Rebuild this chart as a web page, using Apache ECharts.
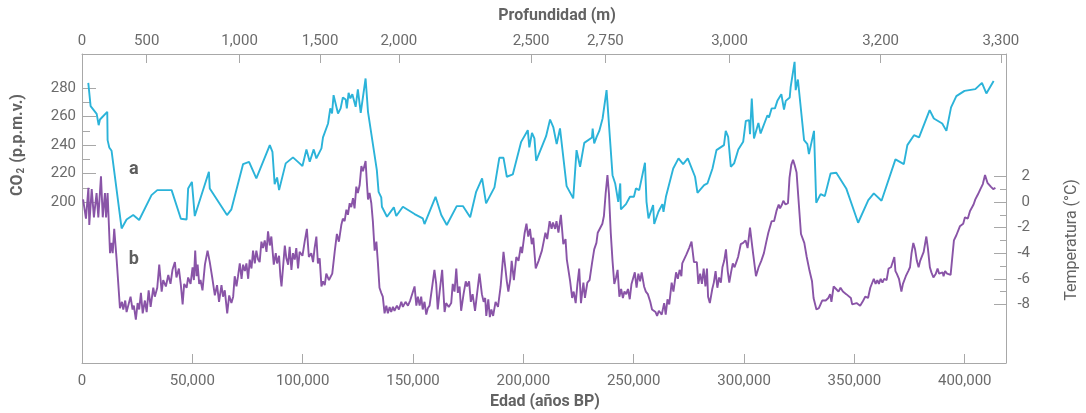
<!DOCTYPE html>
<html>
<head>
<meta charset="utf-8">
<title>Vostok CO2 y temperatura</title>
<script src="https://cdn.jsdelivr.net/npm/echarts@6.0.0/dist/echarts.min.js"></script>
<style>
  html, body { margin: 0; padding: 0; background: #fff; }
  #chart { width: 1086px; height: 413px; }
</style>
</head>
<body>
<div id="chart"></div>
<script>
// edad (años BP) y CO2 (p.p.m.v.) - curva a
const co2Age = [2850, 3900, 6650, 7550, 8150, 11450, 11600, 12350, 13400, 17950, 20200, 23200, 25900, 31500, 34100, 40600, 44800, 47400, 48100, 49800,
  51100, 57500, 57900, 65700, 67700, 73000, 75700, 79000, 85100, 86300, 87300, 88400, 89300, 92300, 95600, 98600, 99900, 101700, 103200, 105000,
  106200, 108500, 109200, 111500, 112500, 113300, 114000, 114800, 116000, 117200, 118200, 119500, 120000, 120800, 121600, 122500, 124000, 125000, 126300, 128500,
  129600, 133600, 134400, 135600, 135900, 138200, 141300, 142400, 145400, 150700, 154400, 155200, 160200, 162800, 165300, 169800, 172600, 175900, 178600, 181300,
  183100, 186900, 189100, 191000, 192500, 195200, 199000, 202000, 202700, 203900, 205000, 205800, 210300, 212100, 213600, 215100, 216600, 219600, 222600, 224100,
  225700, 227600, 231100, 231400, 232100, 233200, 234400, 235900, 237700, 240400, 241600, 243000, 243900, 244200, 246500, 248300, 250100, 251000, 252500, 255100,
  255800, 256700, 258800, 259300, 261200, 263000, 263500, 264600, 267900, 270300, 272400, 274500, 277800, 278900, 281900, 283400, 285700, 287500, 290900, 291700,
  292800, 294000, 295500, 297400, 299600, 300800, 302300, 302700, 303500, 304500, 306500, 307500, 310600, 311300, 312500, 314000, 315100, 316900, 318100, 318900,
  320700, 321100, 322900, 323400, 324400, 327200, 328700, 329400, 331700, 332700, 334700, 336600, 339200, 341800, 346300, 351700, 356300, 358800, 362300, 368600,
  372400, 374000, 377000, 379300, 384100, 386000, 389800, 391700, 393800, 396200, 399900, 404800, 407800, 409800, 413100];
const co2Ppm = [283.7, 267.4, 262, 254, 258, 263.4, 243.5, 238.4, 236, 181.5, 187.8, 190.9, 187.4, 204.9, 208.4, 208.4, 188.3, 187.8, 209.6, 214.2,
  190.2, 221.3, 209.6, 190.9, 194.9, 226.7, 228.3, 216.6, 240, 235.3, 212.6, 217.3, 208.4, 227.2, 231.4, 227.2, 225.3, 237, 228.3, 237,
  230.7, 237.7, 245.4, 255.2, 265.8, 262.2, 275.1, 273.9, 262.2, 265.8, 273.5, 272, 265.8, 276.7, 272.8, 275.8, 266.9, 279.1, 262.7, 286.8,
  263.4, 222.5, 207.2, 203.3, 196.7, 189.7, 196.3, 190.2, 196.7, 191.6, 188.6, 184.6, 203.7, 190.9, 183.9, 197.2, 197.2, 189.3, 207.2, 216.6,
  199.1, 210.3, 231.1, 231.1, 217.8, 219.4, 242.3, 250.5, 238.4, 248.6, 244.7, 229, 246.3, 258, 252.4, 240.7, 251.7, 211.2, 202.6, 236.5,
  224.8, 241.6, 245.4, 251.7, 241.2, 245.8, 250, 258.7, 278.6, 218.9, 213.1, 200.2, 213.1, 194.9, 198.6, 203.7, 203.7, 209.6, 208.4, 227.6,
  200.2, 188.6, 197.9, 184.6, 193.2, 198.6, 193.2, 203.7, 223.6, 230.7, 226.7, 230.7, 217.8, 206.5, 211.9, 213.1, 223.6, 236.5, 240, 250,
  245.8, 224.8, 227.2, 237, 242.3, 257, 257.5, 247.7, 272.8, 244.7, 255.6, 248.2, 261, 259.4, 265.8, 265.8, 271.1, 275.8, 265, 271.1,
  273.5, 280.5, 298.5, 278.6, 286.1, 243.5, 240.7, 233.7, 250, 199.5, 205.6, 204.2, 220.1, 220.6, 209.6, 185.5, 201.4, 206.1, 200.9, 230,
  226.7, 240, 247, 245.4, 264.6, 258.7, 255.2, 250, 266.5, 274.4, 278.1, 279.3, 283.7, 276.3, 285.1];

// edad (años BP) y temperatura (°C) - curva b
const tempAge = [500, 1800, 2900, 3300, 4400, 5400, 6600, 7400, 8600, 9400, 10400, 10900, 11600, 12700, 13400, 13900, 14600, 15700, 17200, 18100,
  18700, 19600, 20200, 21100, 22000, 22900, 23500, 24400, 25200, 25900, 26700, 27500, 28500, 29300, 30200, 31100, 32300, 33000, 34100, 35000,
  36100, 36800, 38000, 39100, 40100, 41000, 42100, 42800, 43900, 44800, 45600, 46300, 47400, 48100, 49200, 50100, 50700, 51300, 51900, 52400,
  53100, 53700, 54600, 55700, 56900, 57900, 59100, 60200, 61200, 62100, 63200, 63900, 64700, 65800, 66700, 67700, 68500, 69200, 70000, 70700,
  71500, 72300, 73000, 73800, 74500, 75300, 76000, 76800, 77500, 78300, 79000, 79800, 80500, 81300, 82000, 82800, 83600, 84300, 85100, 85800,
  86900, 87800, 88400, 89300, 89900, 90400, 91100, 91900, 92600, 93400, 94100, 94900, 95600, 96400, 97100, 97900, 98600, 99900, 100900, 101900,
  102800, 103900, 104700, 105400, 106200, 106900, 107700, 108500, 109200, 110000, 110700, 111900, 113400, 114500, 115500, 116400, 117500, 118200, 119000, 119800,
  120500, 121300, 122000, 122800, 123500, 124300, 125000, 125800, 126600, 127300, 128100, 128500, 129100, 129600, 130300, 131100, 131800, 132600, 133400, 134100,
  134800, 135600, 136300, 137100, 137900, 138600, 139400, 140100, 140900, 141600, 142700, 143600, 144700, 145400, 146600, 147700, 148700, 149600, 150700, 151500,
  152200, 153000, 153700, 154400, 155200, 156000, 156700, 157500, 158700, 159700, 160500, 161200, 162000, 163200, 164300, 165000, 166200, 167300, 168000, 168800,
  169600, 170300, 171100, 171800, 172900, 173900, 174500, 175400, 176200, 177000, 178100, 180100, 181200, 182000, 182700, 183200, 184100, 184800, 185500, 186300,
  187400, 188500, 189700, 191000, 191800, 192500, 193200, 194100, 194700, 195700, 196800, 197800, 198800, 199400, 200600, 201400, 202200, 203000, 203800, 204500,
  205600, 206900, 208400, 210000, 210800, 211900, 212800, 213400, 214400, 215000, 215900, 217000, 218100, 219100, 219700, 220600, 221200, 222100, 222800, 223700,
  224500, 225300, 226100, 227200, 227900, 229000, 230000, 231100, 232100, 233100, 233700, 234600, 235800, 236500, 237300, 238100, 238800, 239600, 240400, 241200,
  242000, 242700, 243500, 244300, 245100, 245800, 246600, 247400, 248200, 249000, 249700, 250500, 251300, 252100, 252900, 253600, 254700, 255500, 256400, 257500,
  258300, 259100, 259900, 260600, 261400, 262700, 263800, 264500, 265300, 266100, 267200, 268000, 269200, 270000, 270800, 271600, 272000, 273900, 275100, 276200,
  277300, 278600, 279300, 280100, 280900, 281700, 282500, 283200, 283700, 284500, 285600, 286300, 287100, 287900, 288700, 289500, 290200, 291000, 291800, 292600,
  293300, 294100, 294900, 295700, 296500, 297300, 298500, 299600, 300700, 301600, 302700, 303800, 305400, 306600, 307800, 309000, 310100, 311000, 311600, 312500,
  313600, 314700, 315700, 316300, 317200, 317800, 318800, 319900, 320600, 321400, 322200, 322900, 323800, 324500, 325800, 327300, 328400, 329700, 330800, 331500,
  332800, 333900, 335400, 337000, 338200, 339000, 339600, 340600, 341700, 342800, 343700, 344800, 346300, 348400, 349000, 351000, 352600, 353700, 354900, 356200,
  357200, 358000, 358800, 359600, 360400, 361100, 361900, 362700, 363500, 364600, 365500, 366600, 367400, 368100, 368600, 369200, 370200, 371300, 372000, 373300,
  374400, 375200, 375900, 376700, 377500, 378300, 379100, 379800, 381400, 382600, 383300, 384200, 384900, 385800, 386900, 387700, 388400, 389200, 390000, 390400,
  391100, 392000, 392700, 393600, 395100, 396200, 397800, 399300, 400100, 401400, 402400, 404000, 404800, 406000, 407100, 408200, 409200, 410300, 411800, 412900,
  413900];
const tempC = [0.2, -1.3, 1.1, -1.8, 1.0, -1.2, 0.7, -1.2, 2.0, -1.2, 0.7, -1.2, 0.7, -4.0, -3.2, -4.0, -2.1, -4.5, -8.3, -7.8,
  -8.4, -7.7, -8.6, -8.0, -7.4, -8.4, -8.1, -9.2, -7.9, -8.4, -7.1, -8.7, -7.7, -8.6, -6.9, -8.2, -6.7, -7.4, -6.7, -4.9,
  -7.0, -6.1, -6.6, -5.7, -6.4, -5.3, -4.7, -5.9, -5.2, -6.5, -8.0, -6.4, -6.7, -5.9, -6.4, -5.1, -6.1, -3.8, -5.8, -4.9,
  -6.4, -6.1, -6.9, -4.9, -3.8, -4.7, -6.0, -7.3, -6.5, -7.8, -6.5, -7.4, -6.9, -8.7, -7.3, -7.9, -7.4, -5.8, -6.6, -5.8,
  -4.8, -6.0, -4.9, -5.4, -4.8, -6.0, -4.5, -5.2, -3.8, -4.8, -3.8, -4.5, -4.7, -3.1, -3.6, -3.0, -3.9, -2.3, -3.4, -2.7,
  -4.9, -4.0, -4.8, -4.2, -5.8, -6.6, -5.1, -3.4, -4.4, -4.9, -3.5, -5.3, -4.0, -4.5, -3.6, -5.2, -3.9, -4.2, -3.1, -2.1,
  -4.3, -4.0, -4.7, -3.6, -2.7, -4.8, -4.4, -6.6, -6.2, -6.5, -5.6, -6.1, -5.6, -3.9, -2.5, -3.1, -1.8, -1.3, -1.5, -0.6,
  -1.0, -0.1, -0.4, 0.3, -0.5, 1.2, 0.7, 1.3, 2.8, 2.4, 2.9, 3.2, 1.5, 0.2, 0.7, -0.1, -1.5, -3.8, -3.1, -4.8,
  -6.7, -7.1, -7.4, -8.7, -8.1, -8.7, -8.2, -8.6, -8.2, -8.5, -8.1, -8.4, -7.8, -8.2, -7.8, -8.1, -7.7, -7.6, -6.6, -8.1,
  -7.4, -8.1, -7.4, -8.4, -7.8, -8.8, -8.3, -8.1, -6.6, -5.3, -6.4, -8.4, -7.1, -5.3, -8.6, -7.9, -8.2, -7.9, -6.4, -7.0,
  -5.2, -7.1, -6.6, -8.5, -7.2, -6.2, -6.6, -6.2, -7.8, -7.2, -8.5, -5.6, -7.2, -7.8, -7.5, -8.9, -7.6, -9.0, -8.4, -8.9,
  -7.8, -8.2, -6.6, -3.9, -5.1, -6.2, -7.0, -6.0, -4.6, -6.1, -4.3, -4.6, -3.5, -4.0, -2.4, -1.7, -2.7, -2.1, -3.3, -2.8,
  -5.2, -4.6, -3.8, -2.4, -2.9, -1.5, -2.1, -1.6, -2.1, -1.5, -2.4, -1.0, -3.3, -2.9, -4.5, -4.5, -6.2, -7.5, -7.0, -7.9,
  -6.4, -5.2, -7.9, -6.3, -7.5, -6.3, -6.1, -4.8, -3.7, -3.2, -2.4, -2.5, -1.7, -1.1, 0.7, 2.1, 0.6, -2.4, -4.6, -6.4,
  -5.9, -5.3, -7.4, -6.8, -7.5, -7.0, -7.2, -6.8, -7.6, -6.4, -6.4, -5.5, -6.7, -5.6, -6.2, -5.5, -6.6, -7.0, -7.2, -7.8,
  -8.4, -8.3, -8.6, -8.9, -8.5, -8.8, -7.9, -8.8, -7.6, -8.0, -6.3, -7.0, -5.5, -6.0, -5.3, -5.8, -4.8, -4.1, -3.6, -3.1,
  -4.7, -4.7, -6.4, -5.6, -6.4, -5.2, -6.6, -5.2, -7.4, -7.9, -6.8, -6.3, -5.4, -6.7, -5.9, -6.3, -5.1, -4.6, -3.7, -5.4,
  -6.3, -5.5, -4.8, -5.1, -4.7, -4.3, -3.3, -3.2, -3.0, -3.6, -2.0, -3.6, -5.8, -5.1, -4.6, -4.0, -3.1, -2.4, -2.5, -1.5,
  -1.5, -0.7, -0.2, -0.5, -0.2, 0.1, -0.2, -0.1, 1.9, 2.9, 3.3, 2.9, 2.3, 0.6, -2.5, -3.2, -4.3, -5.4, -6.2, -7.5,
  -8.4, -8.3, -7.7, -7.7, -7.5, -7.2, -7.8, -6.6, -6.8, -7.0, -6.7, -7.0, -7.2, -7.5, -8.0, -7.9, -8.1, -7.8, -7.4, -7.5,
  -6.7, -6.8, -6.0, -6.4, -6.1, -6.4, -6.0, -6.3, -6.0, -6.1, -5.2, -5.1, -5.1, -4.3, -5.4, -5.6, -6.0, -7.0, -6.4, -5.8,
  -5.4, -5.1, -4.0, -3.2, -3.7, -4.6, -5.1, -4.6, -3.9, -2.7, -3.6, -5.1, -5.5, -5.9, -5.6, -5.2, -5.6, -5.6, -5.5, -5.8,
  -5.4, -5.6, -5.5, -5.7, -3.0, -2.6, -1.9, -1.7, -1.2, -1.3, -0.7, -0.2, 0.2, 0.6, 1.0, 1.4, 2.1, 1.5, 1.2, 1.0,
  1.1];

// ejes
const ageTicks = [0, 50000, 100000, 150000, 200000, 250000, 300000, 350000, 400000];
const depthLabels = ['0', '500', '1,000', '1,500', '2,000', '2,500', '2,750', '3,000', '3,200', '3,300'];
const depthAges = [0, 29300, 71400, 107900, 143600, 203500, 237200, 293400, 361900, 416400];
const co2Ticks = [200, 220, 240, 260, 280];
const co2MinorTicks = [210, 230, 250, 270];
const tempTicks = [-8, -6, -4, -2, 0, 2];
const tempMinorTicks = [-7, -5, -3, -1, 1];

const AXIS_COLOR = '#a8a8a8';
const TEXT_COLOR = '#6b6b6b';
const TITLE_COLOR = '#636363';
const FONT = 'Roboto';

const chart = echarts.init(document.getElementById('chart'), null, { renderer: 'canvas' });

const fmtNum = (v) => Number(v).toLocaleString('en-US');

const axisLineStyle = { show: true, onZero: false, lineStyle: { color: AXIS_COLOR, width: 1 } };

const yBase = (min, max, position) => ({
  type: 'value',
  position: position,
  offset: 0,
  min: min,
  max: max,
  splitLine: { show: false },
  axisLine: axisLineStyle
});

const option = {
  animation: false,
  backgroundColor: '#fff',
  grid: { left: 82, right: 80, top: 54, bottom: 50, containLabel: false },
  xAxis: [
    {
      type: 'value',
      position: 'bottom',
      min: 0,
      max: 418700,
      splitLine: { show: false },
      axisLine: axisLineStyle,
      axisTick: { show: true, inside: true, length: 9, customValues: ageTicks, lineStyle: { color: AXIS_COLOR } },
      axisLabel: {
        customValues: ageTicks,
        margin: 11,
        color: TEXT_COLOR,
        fontFamily: FONT,
        fontSize: 15,
        formatter: fmtNum
      }
    },
    {
      type: 'value',
      position: 'top',
      min: 0,
      max: 418700,
      splitLine: { show: false },
      axisLine: axisLineStyle,
      axisTick: { show: true, inside: true, length: 9, customValues: depthAges, lineStyle: { color: AXIS_COLOR } },
      axisLabel: {
        customValues: depthAges,
        margin: 5,
        color: TEXT_COLOR,
        fontFamily: FONT,
        fontSize: 15,
        formatter: (v) => depthLabels[depthAges.indexOf(v)]
      }
    }
  ],
  yAxis: [
    Object.assign(yBase(87, 304, 'left'), {
      axisTick: { show: true, inside: true, length: 14, customValues: co2Ticks, lineStyle: { color: AXIS_COLOR } },
      axisLabel: { customValues: co2Ticks, margin: 6, color: TEXT_COLOR, fontFamily: FONT, fontSize: 15 }
    }),
    Object.assign(yBase(-12.58, 11.56, 'right'), {
      axisTick: { show: true, inside: true, length: 12, customValues: tempTicks, lineStyle: { color: AXIS_COLOR } },
      axisLabel: { customValues: tempTicks, margin: 24, align: 'right', color: TEXT_COLOR, fontFamily: FONT, fontSize: 15 }
    }),
    // ticks menores (sin etiqueta)
    Object.assign(yBase(87, 304, 'left'), {
      axisLine: { show: false, onZero: false },
      axisTick: { show: true, inside: true, length: 8, customValues: co2MinorTicks, lineStyle: { color: AXIS_COLOR } },
      axisLabel: { show: false }
    }),
    Object.assign(yBase(-12.58, 11.56, 'right'), {
      axisLine: { show: false, onZero: false },
      axisTick: { show: true, inside: true, length: 6, customValues: tempMinorTicks, lineStyle: { color: AXIS_COLOR } },
      axisLabel: { show: false }
    })
  ],
  series: [
    {
      name: 'CO2',
      type: 'line',
      xAxisIndex: 0,
      yAxisIndex: 0,
      showSymbol: false,
      symbol: 'none',
      lineStyle: { color: '#2bb3d9', width: 1.9 },
      data: co2Age.map((a, i) => [a, co2Ppm[i]]),
      markPoint: {
        symbol: 'circle',
        symbolSize: 0,
        silent: true,
        label: { show: true, position: 'inside', formatter: '{b}', color: '#5e5e5e', fontFamily: FONT, fontWeight: 'bold', fontSize: 18 },
        data: [{ name: 'a', coord: [23500, 223] }]
      }
    },
    {
      name: 'Temperatura',
      type: 'line',
      xAxisIndex: 0,
      yAxisIndex: 1,
      showSymbol: false,
      symbol: 'none',
      lineStyle: { color: '#8954a7', width: 1.9 },
      data: tempAge.map((a, i) => [a, tempC[i]]),
      markPoint: {
        symbol: 'circle',
        symbolSize: 0,
        silent: true,
        label: { show: true, position: 'inside', formatter: '{b}', color: '#5e5e5e', fontFamily: FONT, fontWeight: 'bold', fontSize: 18 },
        data: [{ name: 'b', coord: [23500, -4.5] }]
      }
    }
  ],
  // titulos de los ejes
  graphic: [
    {
      type: 'text', x: 557, y: 16,
      style: { text: 'Profundidad (m)', fill: TITLE_COLOR, font: 'bold 16px Roboto', align: 'center', verticalAlign: 'middle' }
    },
    {
      type: 'text', x: 545, y: 402,
      style: { text: 'Edad (años BP)', fill: TITLE_COLOR, font: 'bold 16px Roboto', align: 'center', verticalAlign: 'middle' }
    },
    {
      type: 'text', x: 18, y: 145, rotation: Math.PI / 2,
      style: {
        text: 'CO{sub|2} (p.p.m.v.)', fill: TITLE_COLOR, font: 'bold 16px Roboto', align: 'center', verticalAlign: 'middle',
        rich: { sub: { fontSize: 10, fontWeight: 'bold', fontFamily: FONT, fill: TITLE_COLOR, verticalAlign: 'bottom', padding: [6, 1, 0, 1] } }
      }
    },
    {
      type: 'text', x: 1072, y: 240, rotation: Math.PI / 2,
      style: { text: 'Temperatura (°C)', fill: TITLE_COLOR, font: '16px Roboto', align: 'center', verticalAlign: 'middle' }
    }
  ]
};

chart.setOption(option);
</script>
</body>
</html>
